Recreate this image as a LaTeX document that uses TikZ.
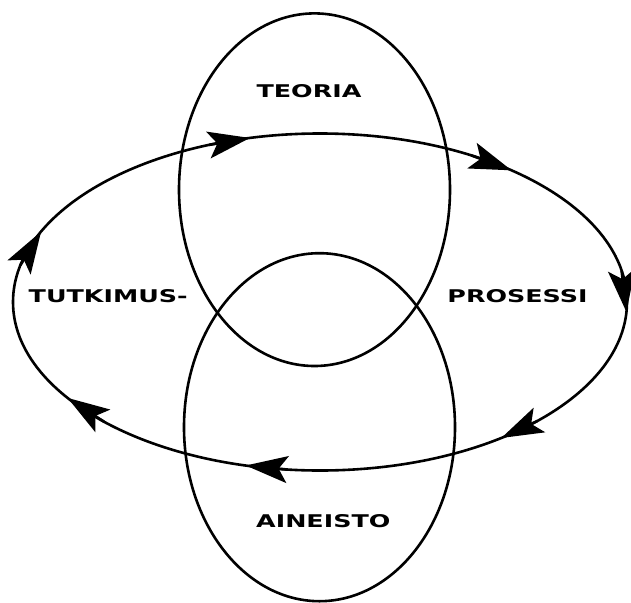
\documentclass[tikz,border=0pt]{standalone}
\usepackage{fontspec}
\usepackage{graphicx}
\setsansfont{DejaVu Sans}
\usetikzlibrary{arrows.meta}
\begin{document}
\begin{tikzpicture}[x=1pt,y=-1pt,
  ring/.style={draw=black, line width=2.6pt},
  lbl/.style={inner sep=0pt, font=\sffamily\bfseries\fontsize{17.5}{17.5}\selectfont},
  tipline/.style={line width=2.6pt, -{Stealth[length=42pt,width=27pt,inset=9pt]}}]
\useasboundingbox (0,0) rectangle (631,602);
\coordinate (E) at (320,302);
\coordinate (T) at (314.5,189.7);
\coordinate (B) at (319.5,427.2);
\draw[ring] (T) ellipse [x radius=135.5, y radius=176.3];
\draw[ring] (B) ellipse [x radius=135.5, y radius=174];
\draw[ring] (E) ellipse [x radius=307, y radius=168.5];
\foreach \t/\b [count=\i] in {-103.2/-111.2, -51.4/-60.5, 3.4/-10.8, 53.8/44.9, 104/96.0, 145.3/134.6, 204.7/192.6} {
  \path (E) ++(\t:307 and 168.5) coordinate (t\i);
  \path (E) ++(\b:307 and 168.5) coordinate (b\i);
  \draw[tipline] (b\i) -- (t\i);
}
\node[lbl] (teoria) at (309,91.3) {\scalebox{1.45}[1]{TEORIA}};
\node[lbl] (tutk) at (108.2,295.7) {\scalebox{1.45}[1]{TUTKIMUS-}};
\node[lbl] (pros) at (517.5,295.7) {\scalebox{1.45}[1]{PROSESSI}};
\node[lbl] (ain) at (323.3,521.6) {\scalebox{1.45}[1]{AINEISTO}};
\end{tikzpicture}
\end{document}
